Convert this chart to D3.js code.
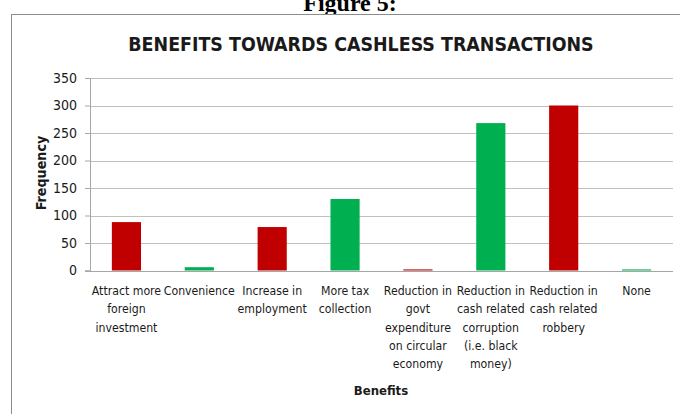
<!DOCTYPE html>
<html>
<head>
<meta charset="utf-8">
<script src="https://cdn.jsdelivr.net/npm/d3@7"></script>
<style>
  html, body { margin: 0; padding: 0; background: #fff; }
  svg { display: block; }
</style>
</head>
<body>
<svg id="chart" width="680" height="414"></svg>
<script>
// Survey responses: benefits of cashless transactions
const categories = [
  ["Attract more", "foreign", "investment"],
  ["Convenience"],
  ["Increase in", "employment"],
  ["More tax", "collection"],
  ["Reduction in", "govt", "expenditure", "on circular", "economy"],
  ["Reduction in", "cash related", "corruption", "(i.e. black", "money)"],
  ["Reduction in", "cash related", "robbery"],
  ["None"]
];
const frequencies = [88, 6, 79, 130, 2, 268, 300, 2];
const barColors = ["#C00000", "#00B050", "#C00000", "#00B050", "#C00000", "#00B050", "#C00000", "#00B050"];
const yTicks = [0, 50, 100, 150, 200, 250, 300, 350];

const font = "'DejaVu Sans Condensed', 'Liberation Sans Narrow', sans-serif";
const svg = d3.select("#chart");

// figure caption above the chart frame (partly cut off at the top)
svg.append("text")
  .attr("x", 350).attr("y", 11)
  .attr("text-anchor", "middle")
  .attr("font-family", "'Liberation Serif', 'Times New Roman', serif")
  .attr("font-weight", "bold")
  .attr("font-size", 24)
  .text("Figure 5:");

// chart frame
svg.append("rect")
  .attr("x", 11.5).attr("y", 14.5)
  .attr("width", 700).attr("height", 420)
  .attr("fill", "#fff")
  .attr("stroke", "#8c8c8c").attr("stroke-width", 1);

const plot = { left: 90, right: 673, top: 78, bottom: 270.5 };

const x = d3.scaleBand()
  .domain(d3.range(categories.length))
  .range([plot.left, plot.right])
  .paddingInner(0.6).paddingOuter(0.3);

const y = d3.scaleLinear()
  .domain([0, 350])
  .range([plot.bottom, plot.top]);

// title
svg.append("text")
  .attr("x", 361).attr("y", 51)
  .attr("text-anchor", "middle")
  .attr("font-family", font)
  .attr("font-weight", "bold")
  .attr("font-size", 19.4)
  .attr("fill", "#1a1a1a")
  .text("BENEFITS TOWARDS CASHLESS TRANSACTIONS");

// horizontal gridlines
svg.append("g")
  .selectAll("line")
  .data(yTicks.filter(d => d > 0))
  .join("line")
  .attr("x1", plot.left).attr("x2", plot.right)
  .attr("y1", d => Math.round(y(d)) + 0.5).attr("y2", d => Math.round(y(d)) + 0.5)
  .attr("stroke", "#c0c0c0").attr("stroke-width", 1.2);

// y axis
const yAxis = d3.axisLeft(y).tickValues(yTicks).tickSize(5).tickPadding(8);
const yG = svg.append("g")
  .attr("transform", `translate(${plot.left},0)`)
  .call(yAxis);
yG.select(".domain").attr("stroke", "#a6a6a6");
yG.selectAll(".tick line").attr("stroke", "#a6a6a6");
yG.selectAll(".tick text")
  .attr("font-family", font)
  .attr("font-size", 14)
  .attr("fill", "#1a1a1a");

// bars
svg.append("g")
  .selectAll("rect")
  .data(frequencies)
  .join("rect")
  .attr("x", (d, i) => x(i))
  .attr("width", x.bandwidth())
  .attr("y", d => y(d))
  .attr("height", d => y(0) - y(d))
  .attr("fill", (d, i) => barColors[i]);

// x axis line
svg.append("line")
  .attr("x1", plot.left - 5).attr("x2", plot.right)
  .attr("y1", Math.round(y(0)) + 0.5).attr("y2", Math.round(y(0)) + 0.5)
  .attr("stroke", "#a6a6a6").attr("stroke-width", 1.2);

// category labels, wrapped into lines
const catG = svg.append("g");
categories.forEach((lines, i) => {
  const t = catG.append("text")
    .attr("text-anchor", "middle")
    .attr("font-family", font)
    .attr("font-size", 12.2)
    .attr("fill", "#1a1a1a");
  lines.forEach((line, j) => {
    t.append("tspan")
      .attr("x", x(i) + x.bandwidth() / 2)
      .attr("y", 295 + j * 18.3)
      .text(line);
  });
});

// axis titles
svg.append("text")
  .attr("x", 381).attr("y", 395)
  .attr("text-anchor", "middle")
  .attr("font-family", font)
  .attr("font-weight", "bold")
  .attr("font-size", 13)
  .attr("fill", "#1a1a1a")
  .text("Benefits");

svg.append("text")
  .attr("transform", "translate(46,173) rotate(-90)")
  .attr("text-anchor", "middle")
  .attr("font-family", font)
  .attr("font-weight", "bold")
  .attr("font-size", 14.2)
  .attr("fill", "#1a1a1a")
  .text("Frequency");
</script>
</body>
</html>
